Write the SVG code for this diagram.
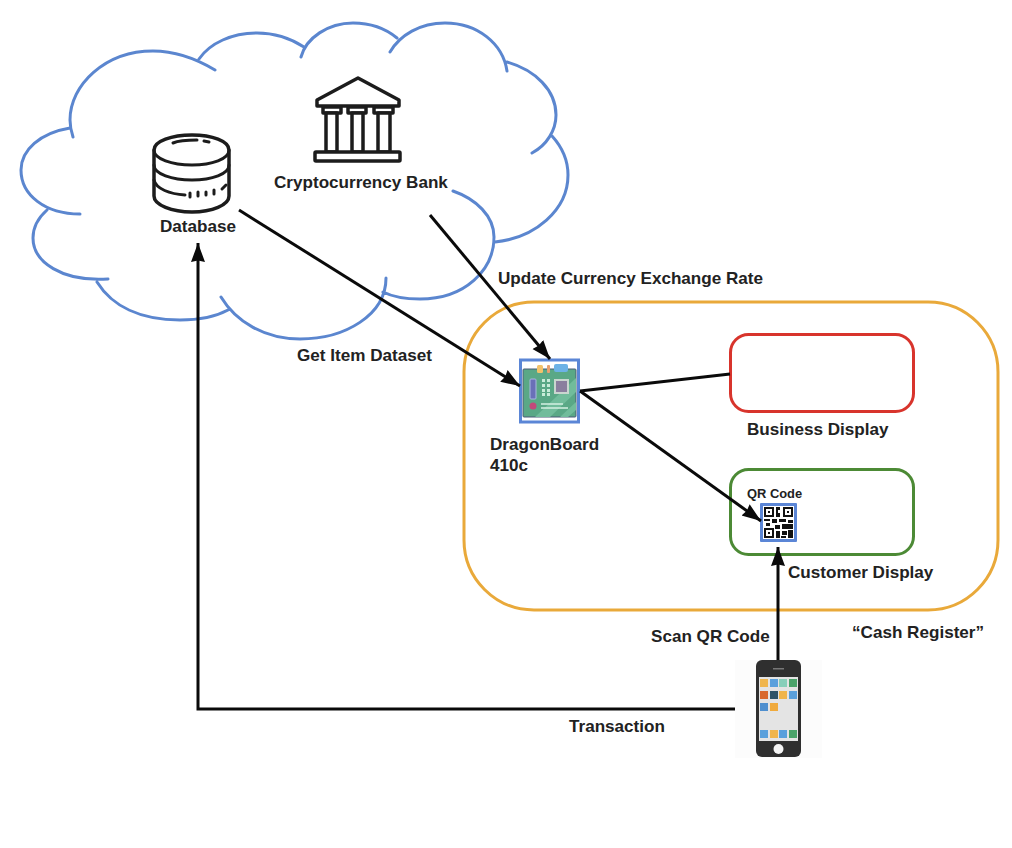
<svg xmlns="http://www.w3.org/2000/svg" width="1012" height="848" viewBox="0 0 1012 848">
<style>
text{font-family:"Liberation Sans",Arial,sans-serif;font-weight:700;font-size:17.1px;fill:#222}
.cloud{fill:none;stroke:#5b86cf;stroke-width:3;stroke-linecap:round}
.ink{fill:#fff;stroke:#1c1c1c;stroke-width:3.5;stroke-linejoin:round;stroke-linecap:round}
.open{fill:none;stroke:#1c1c1c;stroke-width:3;stroke-linecap:round}
.conn{fill:none;stroke:#0a0a0a;stroke-width:3}
</style>
<defs>
<marker id="arrow" markerUnits="userSpaceOnUse" markerWidth="20" markerHeight="18" refX="19" refY="9" orient="auto">
<path d="M0 2L19 9L0 16L1.500 9Z" fill="#0a0a0a"/>
</marker>
</defs>
<rect width="1012" height="848" fill="#fff"/>
<g id="cloud">
<path class="cloud" d="M215 70C195 58 175 51 153 51C105 51 70 85 70 120C70 126 71 131 73 137M70 128C40 133 21 150 21 170C21 195 45 214 80 214M47 210C38 218 33 228 33 238C33 262 62 282 108 279M97 282C112 306 140 320 180 320C198 320 215 317 228 310M221 297C236 322 265 339 300 339C345 339 386 315 386 278M383 292C395 298 408 299 420 299C465 299 494 270 494 237C494 216 476 199 453 191M495 242C535 238 568 210 568 175C568 160 562 147 552 136M532 153C547 145 556 130 556 115C556 90 535 70 507 62M507 71C503 44 478 23 445 23C420 23 400 35 390 52M397 38C385 28 370 23 353 23C328 23 306 38 301 57M304 47C290 38 275 33 257 33C232 33 210 43 199 59"/>
</g>
<g id="cash-register">
<rect x="464" y="302" width="534" height="308" rx="70" fill="none" stroke="#e9a93a" stroke-width="3"/>
<text x="852" y="638">“Cash Register”</text>
</g>
<g id="database">
<path class="ink" d="M154 150V196C154 205 172 212 192 212S229 205 229 196V150C229 141 212 135 192 135S154 141 154 150Z"/>
<path class="open" d="M154 150C154 159 172 165 192 165S229 159 229 150M154 165C154 174 172 180 192 180S229 174 229 165M154 180C156 189 170 194 185 195M226 185L222 189M173 143C180 140 190 140 197 140M204 141L209 142"/>
<path d="M190 193V197M198 192V196M206 192V195M214 190V194" class="open" stroke-width="2.5"/>
<text x="160" y="232">Database</text>
</g>
<g id="bank">
<path class="ink" d="M358 78L317 100V106H399V100Z"/>
<path class="ink" d="M323 107H341V113H323ZM348 107H366V113H348ZM374 107H393V113H374Z"/>
<path class="ink" d="M326 113H337V152H326ZM352 113H363V152H352ZM378 113H390V152H378Z"/>
<rect class="ink" x="315" y="152" width="85" height="9" rx="1"/>
<text x="274" y="188">Cryptocurrency Bank</text>
</g>
<g id="dragonboard">
<rect x="520.500" y="360" width="58" height="62" fill="#fff" stroke="#5b86d6" stroke-width="3"/>
<rect x="523" y="369" width="53" height="48" rx="1" fill="#5aa886" stroke="#4a5a78" stroke-width="1"/>
<path d="M535 417L576 378V392L550 417ZM560 417L576 402V410L568 417Z" fill="#71bc9b"/>
<rect x="537" y="365" width="6" height="8" rx="1.500" fill="#f2c26b"/>
<rect x="547" y="365" width="3" height="8" rx="1" fill="#e8a070"/>
<rect x="554" y="364" width="14" height="8" rx="2" fill="#6cb2e6"/>
<rect x="530" y="379" width="6" height="20" rx="1" fill="#6a70b8" stroke="#a9b8e0" stroke-width="1"/>
<path d="M542 379h3v3h-3zM547 379h3v3h-3zM542 384h3v3h-3zM547 384h3v3h-3zM542 389h3v3h-3zM547 389h3v3h-3zM542 393h3v3h-3zM547 393h3v3h-3z" fill="#c9ecd9"/>
<rect x="555" y="380" width="13" height="13" fill="#8a7f9e" stroke="#c9d6cf" stroke-width="2"/>
<circle cx="533" cy="406" r="3.500" fill="#c2497a"/>
<path d="M541 404H563M541 408H568" stroke="#d4efe2" stroke-width="1.500"/>
<text x="490" y="450">DragonBoard</text>
<text x="490" y="471">410c</text>
</g>
<g id="business-display">
<rect x="730.500" y="334.500" width="183" height="77" rx="18" fill="none" stroke="#d8342c" stroke-width="3"/>
<text x="747" y="435">Business Display</text>
</g>
<g id="customer-display">
<rect x="730.500" y="469.500" width="183" height="85" rx="18" fill="none" stroke="#4c8a35" stroke-width="3"/>
<text x="788" y="578">Customer Display</text>
</g>
<g id="qr-code">
<text x="747" y="498" style="font-size:12.900px">QR Code</text>
<rect x="760" y="503" width="37" height="39" rx="1" fill="#5b86d6"/>
<rect x="763" y="506" width="31" height="33" fill="#fff"/>
<path d="M764 507h10v10h-10zM766 509v6h6v-6zM768 511h2v2h-2zM783 507h10v10h-10zM785 509v6h6v-6zM787 511h2v2h-2zM764 528h10v10h-10zM766 530v6h6v-6zM768 532h2v2h-2zM776 507h4v3h-2v3h2v4h-4zM764 519h6v2h-6zM772 519h5v4h-5zM779 519h7v3h-7zM788 520h5v3h-5zM766 523h4v3h-4zM775 525h5v4h-5zM782 524h11v5h-11zM776 531h4v7h-4zM782 531h5v4h-5zM788 530h5v8h-5zM781 536h5v2h-5z" fill-rule="evenodd" fill="#111"/>
</g>
<g id="phone">
<rect x="735" y="660" width="87" height="98" fill="#fcfcfc"/>
<rect x="756" y="660" width="45" height="97" rx="6" fill="#2f2f2f"/>
<rect x="759" y="677" width="39" height="64" fill="#e4e4e4"/>
<rect x="773" y="668" width="11" height="1.500" fill="#777"/>
<circle cx="778.500" cy="749" r="5" fill="#f4f4f4"/>
<rect x="760" y="679" width="8" height="8" fill="#f0b54c"/>
<rect x="770" y="679" width="8" height="8" fill="#5aa0dc"/>
<rect x="779" y="679" width="8" height="8" fill="#88cfba"/>
<rect x="789" y="679" width="8" height="8" fill="#4ba36a"/>
<rect x="760" y="691" width="8" height="8" fill="#d9682c"/>
<rect x="770" y="691" width="8" height="8" fill="#2f5468"/>
<rect x="779" y="691" width="8" height="8" fill="#f0b54c"/>
<rect x="789" y="691" width="8" height="8" fill="#5aa0dc"/>
<rect x="760" y="703" width="8" height="8" fill="#4e8fcf"/>
<rect x="770" y="703" width="8" height="8" fill="#f0aa3c"/>
<rect x="760" y="730" width="8" height="8" fill="#5aa0dc"/>
<rect x="770" y="730" width="8" height="8" fill="#f0b54c"/>
<rect x="779" y="730" width="8" height="8" fill="#5aa0dc"/>
<rect x="789" y="730" width="8" height="8" fill="#4ba36a"/>
</g>
<g id="connectors">
<path class="conn" marker-end="url(#arrow)" d="M239 210L520 386"/>
<path class="conn" marker-end="url(#arrow)" d="M430 215L550 359"/>
<path class="conn" d="M580 391L730 374"/>
<path class="conn" marker-end="url(#arrow)" d="M580 391L761 521"/>
<path class="conn" marker-end="url(#arrow)" d="M778 660V547"/>
<path class="conn" marker-end="url(#arrow)" d="M735 709H198V243"/>
</g>
<g id="connector-labels">
<text x="498" y="284">Update Currency Exchange Rate</text>
<text x="297" y="361">Get Item Dataset</text>
<text x="651" y="642">Scan QR Code</text>
<text x="569" y="732">Transaction</text>
</g>
</svg>
